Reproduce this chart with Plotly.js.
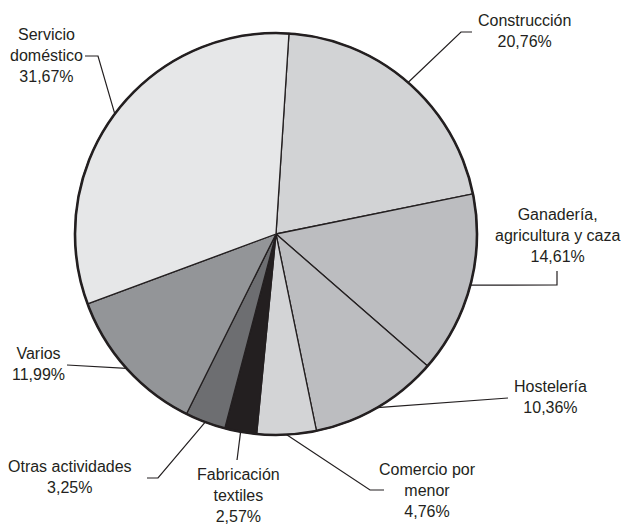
<!DOCTYPE html>
<html>
<head>
<meta charset="utf-8">
<script src="https://cdn.plot.ly/plotly-3.0.1.min.js"></script>
<style>html,body{margin:0;padding:0;background:#fff;}#chart{width:623px;height:527px;}</style>
</head>
<body>
<div id="chart"></div>
<script>
// ---- data ----
const categories = ["Construcción", "Ganadería, agricultura y caza", "Hostelería", "Comercio por menor",
                    "Fabricación textiles", "Otras actividades", "Varios", "Servicio doméstico"];
const labelLines = ["Construcción", "Ganadería,<br>agricultura y caza", "Hostelería", "Comercio por<br>menor",
                    "Fabricación<br>textiles", "Otras actividades", "Varios", "Servicio<br>doméstico"];
const values = [20.76, 14.61, 10.36, 4.76, 2.57, 3.25, 11.99, 31.67];

// ---- style / layout ----
const colors = ["#d2d3d5", "#bcbdc0", "#bcbdc0", "#d3d4d6", "#231f20", "#6d6e71", "#939598", "#e6e7e8"];
const W = 623, H = 527;
const pieBox = {x0: 75, x1: 477, y0: 33, y1: 435};   // pixel box of the pie
const rotation = 3.7;
const ink = "#231f20";
// label centre and leader elbow points (pixels), per category
const labelPos = [
  {tx: 524, ty: 31,  pts: [[472, 32], [461, 32]]},
  {tx: 557, ty: 235, pts: [[557, 271], [557, 285]]},
  {tx: 550, ty: 397, pts: [[508, 398]]},
  {tx: 427, ty: 490, pts: [[384, 490], [370, 490]]},
  {tx: 238, ty: 495, pts: [[237, 460]]},
  {tx: 70,  ty: 477, pts: [[147, 478], [158, 478]]},
  {tx: 38,  ty: 364, pts: [[67, 365]]},
  {tx: 47,  ty: 55,  pts: [[85, 56], [98, 56]]}
];

const px = x => x / W;
const py = y => 1 - y / H;
const domain = {x: [px(pieBox.x0), px(pieBox.x1)], y: [py(pieBox.y1), py(pieBox.y0)]};
const cx = (pieBox.x0 + pieBox.x1) / 2, cy = (pieBox.y0 + pieBox.y1) / 2;
const r = Math.min(pieBox.x1 - pieBox.x0, pieBox.y1 - pieBox.y0) / 2;

const total = values.reduce((a, b) => a + b, 0);
const annotations = [], shapes = [];
let cum = 0;
values.forEach((v, i) => {
  const mid = (rotation + 360 * (cum + v / 2) / total) * Math.PI / 180;
  cum += v;
  const ex = cx + r * Math.sin(mid), ey = cy - r * Math.cos(mid);
  const lp = labelPos[i];
  const pts = lp.pts.concat([[ex, ey]]);
  let path = "M " + px(pts[0][0]) + " " + py(pts[0][1]);
  for (let k = 1; k < pts.length; k++) path += " L " + px(pts[k][0]) + " " + py(pts[k][1]);
  shapes.push({type: "path", xref: "paper", yref: "paper", path: path, line: {color: ink, width: 1.2}});
  annotations.push({
    xref: "paper", yref: "paper", x: px(lp.tx), y: py(lp.ty), xanchor: "center", yanchor: "middle",
    showarrow: false, align: "center",
    text: labelLines[i] + "<br>" + v.toFixed(2).replace(".", ",") + "%",
    font: {family: "Liberation Sans, Arial, sans-serif", size: 16, color: ink}
  });
});

const data = [
  {type: "pie", labels: categories, values: values, sort: false, direction: "clockwise", rotation: rotation,
   marker: {colors: colors, line: {color: ink, width: 1.3}}, textinfo: "none", hoverinfo: "none",
   domain: domain, showlegend: false},
  {type: "pie", labels: ["outline"], values: [1], sort: false, marker: {colors: ["rgba(0,0,0,0)"], line: {color: ink, width: 2.6}},
   textinfo: "none", hoverinfo: "none", domain: domain, showlegend: false}
];
const layout = {
  width: W, height: H, margin: {l: 0, r: 0, t: 0, b: 0},
  paper_bgcolor: "#ffffff", plot_bgcolor: "#ffffff", showlegend: false,
  annotations: annotations, shapes: shapes
};
Plotly.newPlot("chart", data, layout, {displayModeBar: false, staticPlot: true});
</script>
</body>
</html>
